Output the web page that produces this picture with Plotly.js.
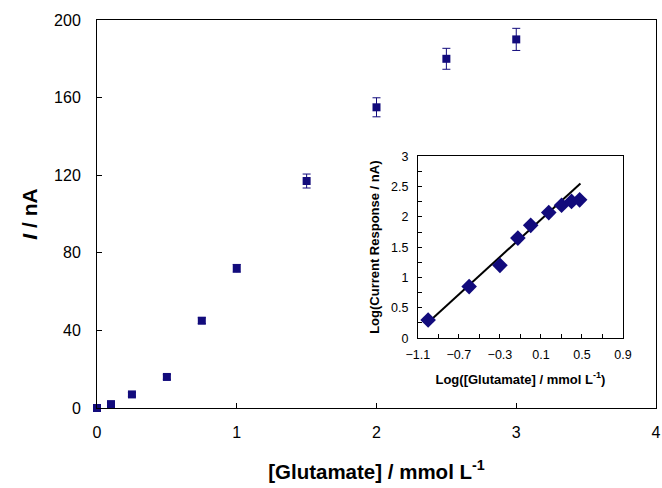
<!DOCTYPE html>
<html>
<head>
<meta charset="utf-8">
<script src="https://cdn.plot.ly/plotly-3.0.1.min.js"></script>
<style>html,body{margin:0;padding:0;background:#fff;}#chart{width:662px;height:488px;}</style>
</head>
<body>
<div id="chart"></div>
<script>
// Main chart data
const concentration = [0, 0.1, 0.25, 0.5, 0.75, 1, 1.5, 2, 2.5, 3];
const current = [0, 2, 7, 16, 45, 72, 117, 155, 180, 190];
const currentErr = [0.8, 0.8, 1, 1.2, 1.5, 2, 3.6, 4.9, 5.4, 5.7];

// Inset (log-log) data
const logConc = [-1.0, -0.6, -0.3, -0.125, 0.0, 0.176, 0.301, 0.398, 0.477];
const logCurrent = [0.30, 0.85, 1.20, 1.65, 1.86, 2.07, 2.19, 2.255, 2.28];

// Inset trendline endpoints
const fitX = [-1.0, 0.485];
const fitY = [0.26, 2.55];

const navy = '#120b7c';
const font = 'Liberation Sans, Arial, sans-serif';

const traces = [
  {
    x: concentration, y: current, type: 'scatter', mode: 'markers',
    marker: {symbol: 'square', size: 8, color: navy},
    error_y: {type: 'data', array: currentErr, visible: true, color: navy, thickness: 1, width: 4},
    xaxis: 'x', yaxis: 'y', showlegend: false, cliponaxis: false
  },
  {
    x: fitX, y: fitY, type: 'scatter', mode: 'lines',
    line: {color: '#000', width: 2},
    xaxis: 'x2', yaxis: 'y2', showlegend: false
  },
  {
    x: logConc, y: logCurrent, type: 'scatter', mode: 'markers',
    marker: {symbol: 'diamond', size: 12, color: navy},
    xaxis: 'x2', yaxis: 'y2', showlegend: false, cliponaxis: false
  }
];

const layout = {
  width: 662, height: 488,
  margin: {l: 97, r: 6, t: 20, b: 80},
  paper_bgcolor: '#fff', plot_bgcolor: '#fff',
  font: {family: font, color: '#000'},
  xaxis: {
    range: [0, 4], dtick: 1, tick0: 0,
    showgrid: false, zeroline: false,
    showline: true, linecolor: '#000', linewidth: 1, mirror: true,
    ticks: 'inside', ticklen: 5, tickcolor: '#000',
    ticklabelstandoff: 10,
    tickfont: {size: 16, family: font},
    title: {text: '<b>[Glutamate] / mmol L<sup>-1</sup></b>', font: {size: 20.5, family: font}, standoff: 24}
  },
  yaxis: {
    range: [0, 200], dtick: 40, tick0: 0,
    showgrid: false, zeroline: false,
    showline: true, linecolor: '#000', linewidth: 1, mirror: true,
    ticks: 'inside', ticklen: 5, tickcolor: '#000',
    ticklabelstandoff: 12,
    tickfont: {size: 16, family: font},
    title: {text: '<b><i>I</i> / nA</b>', font: {size: 21, family: font}, standoff: 10}
  },
  xaxis2: {
    domain: [0.574, 0.941], anchor: 'y2',
    range: [-1.1, 0.9], dtick: 0.4, tick0: -1.1,
    showgrid: false, zeroline: false,
    showline: true, linecolor: '#000', linewidth: 1, mirror: true,
    ticks: 'inside', ticklen: 4, tickcolor: '#000',
    minor: {dtick: 0.2, tick0: -1.1, ticks: 'inside', ticklen: 4, tickcolor: '#000', showgrid: false},
    ticklabelstandoff: 5,
    tickfont: {size: 12.5, family: font},
    tickformat: '.1f',
    title: {text: '<b>Log([Glutamate] / mmol L<sup>-1</sup>)</b>', font: {size: 13, family: font}, standoff: 13}
  },
  yaxis2: {
    domain: [0.18, 0.649], anchor: 'x2',
    range: [0, 3], dtick: 0.5, tick0: 0,
    showgrid: false, zeroline: false,
    showline: true, linecolor: '#000', linewidth: 1, mirror: true,
    ticks: 'inside', ticklen: 4, tickcolor: '#000',
    minor: {dtick: 0.25, ticks: 'inside', ticklen: 4, tickcolor: '#000', showgrid: false},
    ticklabelstandoff: 6,
    tickfont: {size: 12.5, family: font},
    title: {text: '<b>Log(Current Response / nA)</b>', font: {size: 13, family: font}, standoff: 8}
  }
};

Plotly.newPlot('chart', traces, layout, {displayModeBar: false, staticPlot: true});
</script>
</body>
</html>
